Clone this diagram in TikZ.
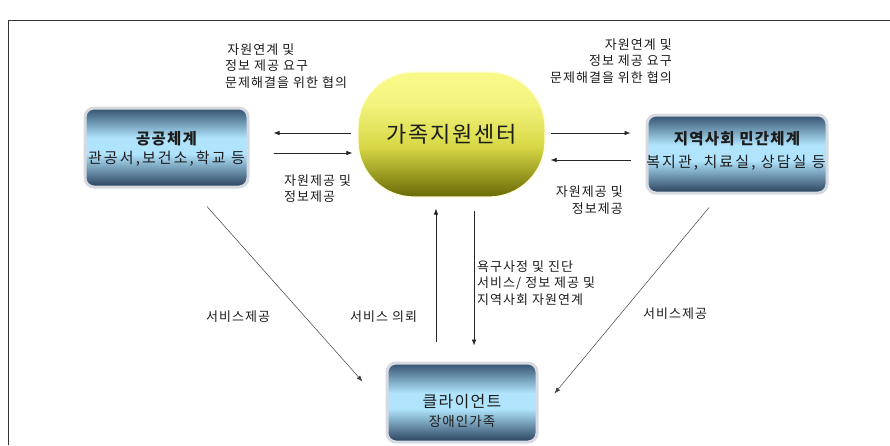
\documentclass[tikz,border=0pt]{standalone}
\usepackage{fontspec}
\setmainfont{Noto Sans CJK KR}
\newfontfamily\krlab[LetterSpace=8]{Noto Sans CJK KR}
\newfontfamily\krbox[LetterSpace=14]{Noto Sans CJK KR}
\newfontfamily\krtitle[LetterSpace=8]{Noto Sans CJK KR}
\usetikzlibrary{arrows.meta}
\definecolor{bdark}{RGB}{50,80,110}
\definecolor{bdeep}{RGB}{40,64,92}
\definecolor{blight}{RGB}{176,228,252}
\definecolor{ytop}{RGB}{250,250,140}
\definecolor{ymid}{RGB}{215,215,70}
\definecolor{ybot}{RGB}{105,105,5}
\definecolor{glow}{RGB}{214,218,224}
\definecolor{txt}{RGB}{28,28,28}
\pgfdeclareverticalshading{bluesh}{100bp}{color(0bp)=(bdeep); color(25bp)=(bdeep); color(46bp)=(blight); color(56bp)=(blight); color(75bp)=(bdark); color(100bp)=(bdark)}
\pgfdeclareverticalshading{yellowsh}{100bp}{color(0bp)=(ybot); color(25bp)=(ybot); color(45bp)=(ymid); color(62bp)=(ytop!80!ymid); color(75bp)=(ytop); color(100bp)=(ytop)}
\tikzset{
  bluebox/.style={rectangle, rounded corners=9pt, draw=glow, line width=3pt,
    shading=bluesh, inner sep=0pt},
  centerbox/.style={rectangle, rounded corners=56pt, draw=ytop!35, line width=1.2pt,
    shading=yellowsh, text=txt, inner sep=0pt},
  btitle/.style={text=txt, inner sep=0pt},
  lab/.style={font=\krlab\fontsize{13}{16.5}\selectfont, text=txt, inner sep=0pt},
  arr/.style={-{Latex[length=6pt,width=4.5pt]}, line width=0.6pt, black!85},
  darr/.style={-{Latex[length=6pt,width=4.5pt]}, line width=0.5pt, black!75}
}
\begin{document}
\begin{tikzpicture}[x=1pt,y=-1pt]
\useasboundingbox (0,0) rectangle (890,445);
\draw[line width=0.8pt, black!80] (8,445) -- (8,20) -- (890,20);

\node[bluebox, minimum width=163, minimum height=79] (pub) at (166.5,147.5) {};
\node[btitle, font=\krtitle\bfseries\fontsize{15.5}{18}\selectfont] (pubt) at (166.5,139) {공공체계};
\node[btitle, font=\krbox\fontsize{15}{18}\selectfont] (pubs) at (166.5,159) {관공서,보건소,학교 등};

\node[bluebox, minimum width=180, minimum height=78] (priv) at (737,154) {};
\node[btitle, font=\krtitle\bfseries\fontsize{15.5}{18}\selectfont] (privt) at (737,139) {지역사회 민간체계};
\node[btitle, font=\krbox\fontsize{15}{18}\selectfont] (privs) at (736,163) {복지관, 치료실, 상담실 등};

\node[bluebox, minimum width=150, minimum height=79] (cli) at (462,402.5) {};
\node[btitle, font=\krtitle\fontsize{16}{18}\selectfont] (clit) at (462,402) {클라이언트};
\node[btitle, font=\krtitle\fontsize{13.5}{16}\selectfont] (clis) at (462,421) {장애인가족};

\node[centerbox, minimum width=187, minimum height=125, font=\krtitle\fontsize{22}{24}\selectfont] (ctr) at (451.5,134.5) {가족지원센터};

% horizontal arrows
\draw[arr] ([shift={(-6,-1.5)}]ctr.west) -- ([shift={(24,-14.5)}]pub.east);
\draw[arr] ([shift={(24,5.5)}]pub.east) -- ([shift={(-5,18.5)}]ctr.west);
\draw[arr] ([shift={(5,-1.5)}]ctr.east) -- ([shift={(-15,-21)}]priv.west);
\draw[arr] ([shift={(-15,6)}]priv.west) -- ([shift={(5,25.5)}]ctr.east);
% vertical arrows
\draw[arr] ([shift={(-26,-20)}]cli.north) -- ([shift={(-15.5,11)}]ctr.south);
\draw[arr] ([shift={(22.5,13)}]ctr.south) -- ([shift={(12,-16)}]cli.north);
% diagonal arrows
\draw[darr] ([shift={(40.5,18)}]pub.south) -- ([shift={(-23,20)}]cli.north west);
\draw[darr] ([shift={(-28,13)}]priv.south) -- ([shift={(16,32)}]cli.north east);

% labels
\node[lab, anchor=west, align=left] (tl) at (225,66) {\,자원연계 및\\정보 제공 요구\\문제해결을 위한 협의};
\node[lab, anchor=east, align=right] (tr) at (672,61) {자원연계 및\\정보 제공 요구\\문제해결을 위한 협의};
\node[lab, anchor=west, align=left] (bl) at (284,188.5) {자원제공 및\\정보제공};
\node[lab, anchor=east, align=right] (br) at (623,200) {자원제공 및\\정보제공};
\node[lab, anchor=west, align=left] (mid) at (477,283) {욕구사정 및 진단\\서비스/ 정보 제공 및\\지역사회 자원연계};
\node[lab, anchor=west] (req) at (350,317) {서비스 의뢰};
\node[lab, anchor=west] (svl) at (206,317) {서비스제공};
\node[lab, anchor=west] (svr) at (643,314) {서비스제공};
\end{tikzpicture}
\end{document}
